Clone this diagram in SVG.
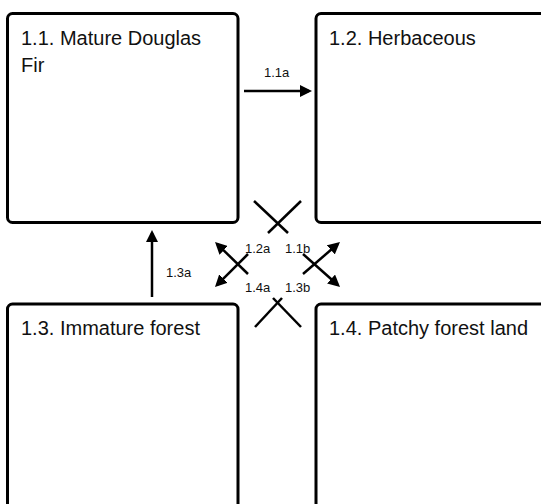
<svg xmlns="http://www.w3.org/2000/svg" width="541" height="504" viewBox="0 0 541 504">
<style>
.box{fill:#fff;stroke:#000;stroke-width:3}
.title{font-family:"Liberation Sans",Arial,sans-serif;font-size:20px;fill:#111}
.lbl{font-family:"Liberation Sans",Arial,sans-serif;font-size:13px;fill:#111}
.c{stroke:#000;stroke-width:2.5;fill:none}
.arr{marker-end:url(#ah)}
</style>
<defs>
<marker id="ah" markerUnits="userSpaceOnUse" markerWidth="12" markerHeight="12" refX="9" refY="6" orient="auto">
<path d="M0,0 L12,6 L0,12 z" fill="#000"/>
</marker>
</defs>
<rect width="541" height="504" fill="#fff"/>
<g id="n11">
<rect class="box" x="7.5" y="13.5" width="230.5" height="209" rx="5"/>
<text class="title" x="21" y="45">1.1. Mature Douglas</text>
<text class="title" x="21" y="72">Fir</text>
</g>
<g id="n12">
<rect class="box" x="316" y="13.5" width="240" height="209" rx="5"/>
<text class="title" x="329" y="45">1.2. Herbaceous</text>
</g>
<g id="n13">
<rect class="box" x="7.5" y="304" width="230.5" height="215" rx="5"/>
<text class="title" x="21" y="335">1.3. Immature forest</text>
</g>
<g id="n14">
<rect class="box" x="316" y="304" width="240" height="215" rx="5"/>
<text class="title" x="329" y="335">1.4. Patchy forest land</text>
</g>
<g id="connectors">
<line class="c arr" x1="244" y1="91" x2="309" y2="91"/>
<text class="lbl" x="264" y="77">1.1a</text>
<line class="c arr" x1="152" y1="297" x2="152" y2="233"/>
<text class="lbl" x="166" y="277">1.3a</text>
<line class="c" x1="254" y1="201" x2="288" y2="233"/>
<line class="c" x1="301" y1="201" x2="268" y2="233"/>
<line class="c" x1="273" y1="298" x2="301" y2="327"/>
<line class="c" x1="282" y1="298" x2="255" y2="327"/>
<line class="c arr" x1="248" y1="274" x2="217.2" y2="244.1"/>
<line class="c arr" x1="248" y1="254" x2="217.1" y2="284.9"/>
<line class="c arr" x1="303" y1="274" x2="337.7" y2="244"/>
<line class="c arr" x1="303" y1="254" x2="337.8" y2="285"/>
<text class="lbl" x="245" y="253">1.2a</text>
<text class="lbl" x="285" y="253">1.1b</text>
<text class="lbl" x="245" y="292">1.4a</text>
<text class="lbl" x="285" y="292">1.3b</text>
</g>
</svg>
